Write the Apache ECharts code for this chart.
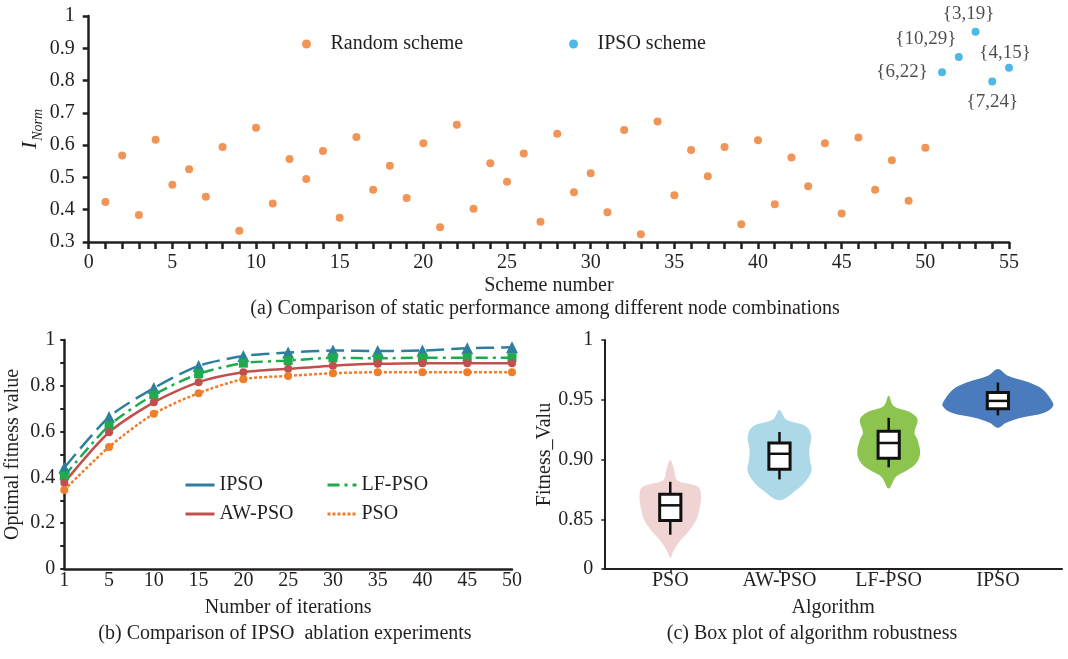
<!DOCTYPE html>
<html>
<head>
<meta charset="utf-8">
<script src="https://cdn.jsdelivr.net/npm/echarts@6/dist/echarts.min.js"></script>
<style>
  html, body { margin: 0; padding: 0; background: #fff; }
  #chart { width: 1068px; height: 659px; }
</style>
</head>
<body>
<div id="chart"></div>
<script>
const FONT = '"Liberation Serif", "Times New Roman", serif';
const INK = '#231f20';

// (a) static performance of node combinations
const randomScores = [
  0.424, 0.568, 0.384, 0.617, 0.477, 0.525, 0.440, 0.594, 0.335, 0.654,
  0.419, 0.557, 0.495, 0.582, 0.375, 0.625, 0.462, 0.536, 0.436, 0.606,
  0.346, 0.663, 0.403, 0.544, 0.487, 0.574, 0.363, 0.635, 0.454, 0.513,
  0.392, 0.647, 0.324, 0.673, 0.445, 0.585, 0.504, 0.594, 0.355, 0.615,
  0.417, 0.562, 0.473, 0.606, 0.388, 0.624, 0.462, 0.553, 0.428, 0.592
];
const ipsoSchemes = [51, 52, 53, 54, 55];
const ipsoScores = [0.826, 0.873, 0.951, 0.797, 0.840];
const ipsoNodes = ['{6,22}', '{10,29}', '{3,19}', '{7,24}', '{4,15}'];

// (b) ablation curves
const iterations = ['1', '5', '10', '15', '20', '25', '30', '35', '40', '45', '50'];
const curveIPSO = [0.442, 0.664, 0.790, 0.887, 0.930, 0.945, 0.954, 0.952, 0.954, 0.964, 0.968];
const curveAW = [0.377, 0.597, 0.728, 0.816, 0.859, 0.874, 0.888, 0.896, 0.899, 0.899, 0.899];
const curveLF = [0.406, 0.626, 0.761, 0.852, 0.899, 0.910, 0.922, 0.920, 0.923, 0.923, 0.923];
const curvePSO = [0.345, 0.533, 0.678, 0.768, 0.829, 0.843, 0.855, 0.859, 0.859, 0.859, 0.859];

// (c) robustness: box stats [min, q1, median, q3, max]
const algorithms = ['PSO', 'AW-PSO', 'LF-PSO', 'IPSO'];
const boxStats = [
  [0.8376, 0.8494, 0.8621, 0.8713, 0.8817],
  [0.8837, 0.8922, 0.9051, 0.9141, 0.9233],
  [0.8938, 0.9014, 0.9141, 0.9239, 0.9351],
  [0.9371, 0.9427, 0.9492, 0.9562, 0.9646]
];
// violin outlines, top to bottom: [value, half width in category units]
const violinPSO = [[0.900, 0], [0.8916, 0.036], [0.8831, 0.064], [0.8775, 0.255], [0.8691, 0.282],
  [0.8578, 0.264], [0.8494, 0.236], [0.8410, 0.173], [0.8325, 0.091], [0.8241, 0.030], [0.8185, 0]];
const violinAW = [[0.9416, 0], [0.9337, 0.061], [0.9281, 0.242], [0.9196, 0.291], [0.9084, 0.273],
  [0.9000, 0.279], [0.8916, 0.294], [0.8831, 0.248], [0.8747, 0.152], [0.8663, 0]];
const violinLF = [[0.9534, 0], [0.9449, 0.045], [0.9394, 0.203], [0.9337, 0.264], [0.9225, 0.236],
  [0.9169, 0.264], [0.9056, 0.288], [0.8972, 0.252], [0.8916, 0.173], [0.8859, 0.067], [0.8761, 0]];
const violinIPSO = [[0.9759, 0], [0.9702, 0.091], [0.9646, 0.288], [0.9590, 0.409], [0.9506, 0.485],
  [0.9449, 0.506], [0.9394, 0.424], [0.9351, 0.212], [0.9309, 0.076], [0.9267, 0]];
const violins = [violinPSO, violinAW, violinLF, violinIPSO];
const violinColors = ['#f0d4d4', '#acd8e7', '#8dc450', '#4a7bbd'];

// where each node label sits relative to its point (px)
const labelOffsets = [[-40, 0], [-33, -18], [-7, -18], [0, 20], [-4, -15]];

const axisLine = { show: true, onZero: false, lineStyle: { color: INK, width: 2.5 } };
const tickText = { color: INK, fontFamily: FONT, fontSize: 20 };
const nameText = { color: INK, fontFamily: FONT, fontSize: 20 };

const chart = echarts.init(document.getElementById('chart'));

chart.setOption({
  backgroundColor: '#fff',
  animation: false,
  textStyle: { fontFamily: FONT },
  grid: [
    { left: 88.7, right: 59, top: 16, bottom: 417 },
    { left: 64.3, right: 556, top: 340, bottom: 90 },
    { left: 604.3, right: 6, top: 340, bottom: 90 }
  ],
  legend: [
    {
      data: ['Random scheme'], left: 302, top: 34, padding: 0, itemWidth: 38, itemHeight: 9,
      textStyle: tickText, selectedMode: false
    },
    {
      data: ['IPSO scheme'], left: 569, top: 34, padding: 0, itemWidth: 38, itemHeight: 9,
      textStyle: tickText, selectedMode: false
    },
    {
      data: [{ name: 'IPSO', lineStyle: { type: 'solid' } }, 'AW-PSO'],
      orient: 'vertical', left: 184, top: 475, padding: 0, itemGap: 9, itemWidth: 29, itemHeight: 14,
      itemStyle: { opacity: 0 }, lineStyle: { width: 3 }, textStyle: tickText, selectedMode: false
    },
    {
      data: ['LF-PSO', 'PSO'],
      orient: 'vertical', left: 326, top: 475, padding: 0, itemGap: 9, itemWidth: 29, itemHeight: 14,
      itemStyle: { opacity: 0 }, lineStyle: { width: 3 }, textStyle: tickText, selectedMode: false
    }
  ],
  xAxis: [
    {
      gridIndex: 0, type: 'value', min: 0, max: 55, interval: 5,
      name: 'Scheme number', nameLocation: 'middle', nameGap: 34, nameTextStyle: nameText,
      axisLine,
      axisTick: {
        show: true, length: 7, lineStyle: { color: INK, width: 2.5 },
        customValues: Array.from({ length: 56 }, (_, i) => i)
      },
      axisLabel: { ...tickText, margin: 11 },
      splitLine: { show: false }
    },
    {
      gridIndex: 1, type: 'category', data: iterations, boundaryGap: false,
      name: 'Number of iterations', nameLocation: 'middle', nameGap: 29, nameTextStyle: nameText,
      axisLine,
      axisTick: { show: false },
      axisLabel: { ...tickText, margin: 2, interval: 0 },
      splitLine: { show: false }
    },
    {
      gridIndex: 2, type: 'value', min: -0.604, max: 3.587,
      name: 'Algorithm', nameLocation: 'middle', nameGap: 29, nameTextStyle: nameText,
      axisLine: { show: true, onZero: false, lineStyle: { color: INK, width: 2 } },
      axisTick: { show: true, length: 4, lineStyle: { color: INK, width: 1.5 }, customValues: [0, 1, 2, 3] },
      axisLabel: { ...tickText, margin: 2, customValues: [0, 1, 2, 3], formatter: v => algorithms[Math.round(v)] },
      splitLine: { show: false }
    }
  ],
  yAxis: [
    {
      gridIndex: 0, type: 'value', min: 0.3, max: 1, interval: 0.1,
      name: '{i|I}{s|Norm}', nameLocation: 'middle', nameGap: 43, nameMoveOverlap: false,
      nameTextStyle: {
        rich: {
          i: { fontFamily: FONT, fontSize: 22, fontStyle: 'italic', color: INK, verticalAlign: 'bottom', padding: [0, 1, 4, 0] },
          s: { fontFamily: FONT, fontSize: 14, fontStyle: 'italic', color: INK, verticalAlign: 'bottom' }
        }
      },
      axisLine,
      axisTick: { show: true, length: 6, lineStyle: { color: INK, width: 2.5 } },
      axisLabel: { ...tickText, margin: 14 },
      splitLine: { show: false }
    },
    {
      gridIndex: 1, type: 'value', min: 0, max: 1, interval: 0.2,
      name: 'Optimal fitness value', nameLocation: 'middle', nameGap: 42, nameTextStyle: nameText,
      axisLine,
      axisTick: { show: true, length: 4, lineStyle: { color: INK, width: 2 } },
      minorTick: { show: true, splitNumber: 2, length: 4, lineStyle: { color: INK, width: 2 } },
      axisLabel: { ...tickText, margin: 9 },
      splitLine: { show: false },
      minorSplitLine: { show: false }
    },
    {
      gridIndex: 2, type: 'value', min: 0.809, max: 1,
      name: 'Fitness_Valu', nameLocation: 'middle', nameGap: 49, nameTextStyle: nameText,
      axisLine: { show: true, onZero: false, lineStyle: { color: INK, width: 2 } },
      axisTick: { show: true, length: 3, lineStyle: { color: INK, width: 1.5 }, customValues: [0.809, 0.85, 0.9, 0.95, 1] },
      axisLabel: {
        ...tickText, margin: 11, customValues: [0.809, 0.85, 0.9, 0.95, 1],
        formatter: v => (v < 0.82 ? '0' : v > 0.99 ? '1' : v.toFixed(2))
      },
      splitLine: { show: false }
    }
  ],
  series: [
    {
      name: 'Random scheme', type: 'scatter', xAxisIndex: 0, yAxisIndex: 0,
      symbolSize: 8, itemStyle: { color: '#ec7a2c' },
      data: randomScores.map((v, i) => [i + 1, v])
    },
    {
      name: 'IPSO scheme', type: 'scatter', xAxisIndex: 0, yAxisIndex: 0,
      symbolSize: 8, itemStyle: { color: '#22a8e0' },
      data: ipsoScores.map((v, i) => ({
        value: [ipsoSchemes[i], v],
        label: {
          show: true, formatter: ipsoNodes[i], position: 'inside', offset: labelOffsets[i],
          color: INK, fontFamily: FONT, fontSize: 19
        }
      }))
    },
    {
      name: 'IPSO', type: 'line', xAxisIndex: 1, yAxisIndex: 1, smooth: 0.25,
      symbol: 'triangle', symbolSize: 12,
      lineStyle: { color: '#2e7f9e', width: 2.5, type: [18, 7] },
      itemStyle: { color: '#2e7f9e' },
      data: curveIPSO
    },
    {
      name: 'LF-PSO', type: 'line', xAxisIndex: 1, yAxisIndex: 1, smooth: 0.25,
      symbol: 'rect', symbolSize: 9,
      lineStyle: { color: '#1faa4e', width: 2.5, type: [12, 5, 3, 5] },
      itemStyle: { color: '#1faa4e' },
      data: curveLF
    },
    {
      name: 'AW-PSO', type: 'line', xAxisIndex: 1, yAxisIndex: 1, smooth: 0.25,
      symbol: 'circle', symbolSize: 8,
      lineStyle: { color: '#c0504d', width: 2.5 },
      itemStyle: { color: '#c0504d' },
      data: curveAW
    },
    {
      name: 'PSO', type: 'line', xAxisIndex: 1, yAxisIndex: 1, smooth: 0.25,
      symbol: 'circle', symbolSize: 8,
      lineStyle: { color: '#f07d2a', width: 2.5, type: [3, 2] },
      itemStyle: { color: '#f07d2a' },
      data: curvePSO
    },
    {
      name: 'violin', type: 'custom', xAxisIndex: 2, yAxisIndex: 2,
      data: boxStats.map((b, i) => [i, b[2]]),
      renderItem: (params, api) => {
        const idx = api.value(0);
        const prof = violins[idx];
        const right = prof.map(([v, w]) => api.coord([idx + w, v]));
        const left = prof.slice(1, -1).reverse().map(([v, w]) => api.coord([idx - w, v]));
        return {
          type: 'polygon',
          shape: { points: right.concat(left), smooth: 0.35 },
          style: { fill: violinColors[idx] }
        };
      }
    },
    {
      name: 'box', type: 'custom', xAxisIndex: 2, yAxisIndex: 2,
      data: boxStats.map((b, i) => [i, ...b]),
      renderItem: (params, api) => {
        const idx = api.value(0);
        const [mn, q1, md, q3, mx] = [1, 2, 3, 4, 5].map(k => api.value(k));
        const hw = 0.097;
        const top = api.coord([idx, mx]);
        const upper = api.coord([idx, q3]);
        const lower = api.coord([idx, q1]);
        const bottom = api.coord([idx, mn]);
        const tl = api.coord([idx - hw, q3]);
        const br = api.coord([idx + hw, q1]);
        const mid = api.coord([idx, md]);
        const stroke = { stroke: '#111', lineWidth: 2.5 };
        return {
          type: 'group',
          children: [
            { type: 'line', shape: { x1: top[0], y1: top[1], x2: upper[0], y2: upper[1] }, style: stroke },
            { type: 'line', shape: { x1: lower[0], y1: lower[1], x2: bottom[0], y2: bottom[1] }, style: stroke },
            {
              type: 'rect',
              shape: { x: tl[0], y: tl[1], width: br[0] - tl[0], height: br[1] - tl[1] },
              style: { fill: '#fff', stroke: '#111', lineWidth: 3 }
            },
            { type: 'line', shape: { x1: tl[0], y1: mid[1], x2: br[0], y2: mid[1] }, style: stroke }
          ]
        };
      }
    }
  ],
  graphic: [
    {
      type: 'text', x: 545, y: 309,
      style: { text: '(a) Comparison of static performance among different node combinations', fill: INK, font: '20px ' + FONT, textAlign: 'center', verticalAlign: 'middle' }
    },
    {
      type: 'text', x: 285, y: 634,
      style: { text: '(b) Comparison of IPSO  ablation experiments', fill: INK, font: '20px ' + FONT, textAlign: 'center', verticalAlign: 'middle' }
    },
    {
      type: 'text', x: 812, y: 634,
      style: { text: '(c) Box plot of algorithm robustness', fill: INK, font: '20px ' + FONT, textAlign: 'center', verticalAlign: 'middle' }
    }
  ]
});

window.addEventListener('resize', () => chart.resize());
</script>
</body>
</html>
